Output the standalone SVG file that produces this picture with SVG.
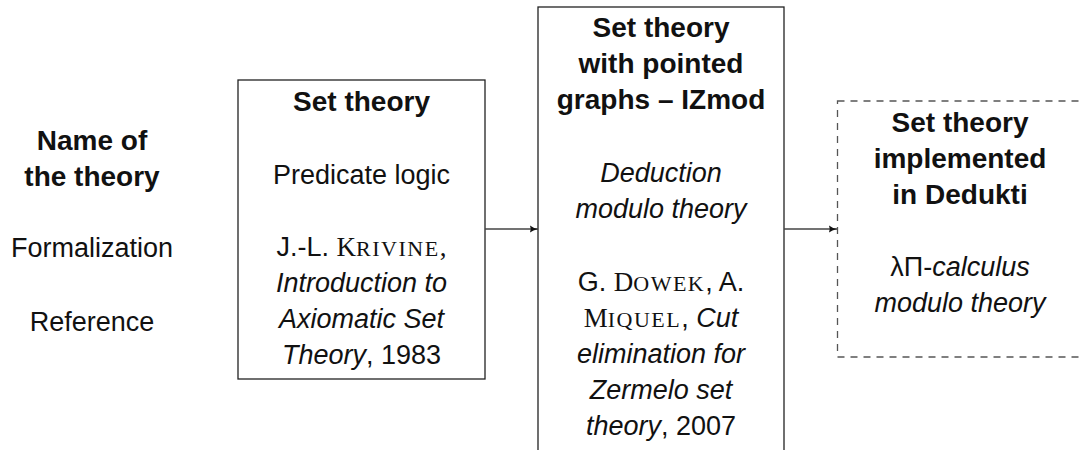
<svg xmlns="http://www.w3.org/2000/svg" width="1082" height="450" viewBox="0 0 1082 450">
  <style>
    text { font-family: "Liberation Sans", Arial, sans-serif; font-size: 27px; fill: #111; text-anchor: middle; }
    .b { font-weight: bold; font-size: 28px; }
    .i { font-style: italic; }
    .sc { font-family: "Liberation Serif", "Times New Roman", serif; }
    .scs { font-size: 22px; letter-spacing: 1.5px; }
    .box { fill: #fff; stroke: #222; stroke-width: 1.3; }
    .dbox { fill: none; stroke: #555; stroke-width: 1.3; stroke-dasharray: 7 6; }
    .conn { stroke: #444; stroke-width: 1.3; fill: none; }
  </style>
  <defs>
    <marker id="arr" markerUnits="userSpaceOnUse" markerWidth="10" markerHeight="10" refX="8" refY="4" orient="auto">
      <path d="M0,0.5 Q3,3 8,4 Q3,5 0,7.5 Q1.5,4 0,0.5 Z" fill="#111"/>
    </marker>
  </defs>
  <rect width="1082" height="450" fill="#fff"/>

  <g id="labels">
    <text class="b" x="92" y="150">Name of</text>
    <text class="b" x="92" y="186">the theory</text>
    <text x="92" y="257">Formalization</text>
    <text x="92" y="331">Reference</text>
  </g>

  <g id="node-settheory">
    <rect class="box" x="238" y="80" width="247" height="299"/>
    <text class="b" x="361.5" y="111">Set theory</text>
    <text x="361.5" y="184">Predicate logic</text>
    <text x="361.5" y="256">J.-L. <tspan class="sc">K<tspan class="scs">RIVINE</tspan>,</tspan></text>
    <text class="i" x="361.5" y="292">Introduction to</text>
    <text class="i" x="361.5" y="328">Axiomatic Set</text>
    <text x="361.5" y="364"><tspan class="i">Theory</tspan>, 1983</text>
  </g>

  <g id="node-izmod">
    <rect class="box" x="538" y="7" width="246" height="460"/>
    <text class="b" x="661" y="37">Set theory</text>
    <text class="b" x="661" y="73">with pointed</text>
    <text class="b" x="661" y="109">graphs – IZmod</text>
    <text class="i" x="661" y="182">Deduction</text>
    <text class="i" x="661" y="218">modulo theory</text>
    <text x="661" y="291">G. <tspan class="sc">D<tspan class="scs">OWEK</tspan></tspan>, A.</text>
    <text x="661" y="327"><tspan class="sc">M<tspan class="scs">IQUEL</tspan></tspan>, <tspan class="i">Cut</tspan></text>
    <text class="i" x="661" y="363">elimination for</text>
    <text class="i" x="661" y="399">Zermelo set</text>
    <text x="661" y="435"><tspan class="i">theory</tspan>, 2007</text>
  </g>

  <g id="node-dedukti">
    <rect class="dbox" x="837.5" y="101" width="246" height="256"/>
    <text class="b" x="960" y="132">Set theory</text>
    <text class="b" x="960" y="168">implemented</text>
    <text class="b" x="960" y="204">in Dedukti</text>
    <text x="960" y="276">λΠ-<tspan class="i">calculus</tspan></text>
    <text class="i" x="960" y="312">modulo theory</text>
  </g>

  <g id="connectors">
    <line class="conn" x1="485" y1="229" x2="538" y2="229" marker-end="url(#arr)"/>
    <line class="conn" x1="784" y1="229" x2="837" y2="229" marker-end="url(#arr)"/>
  </g>
</svg>
